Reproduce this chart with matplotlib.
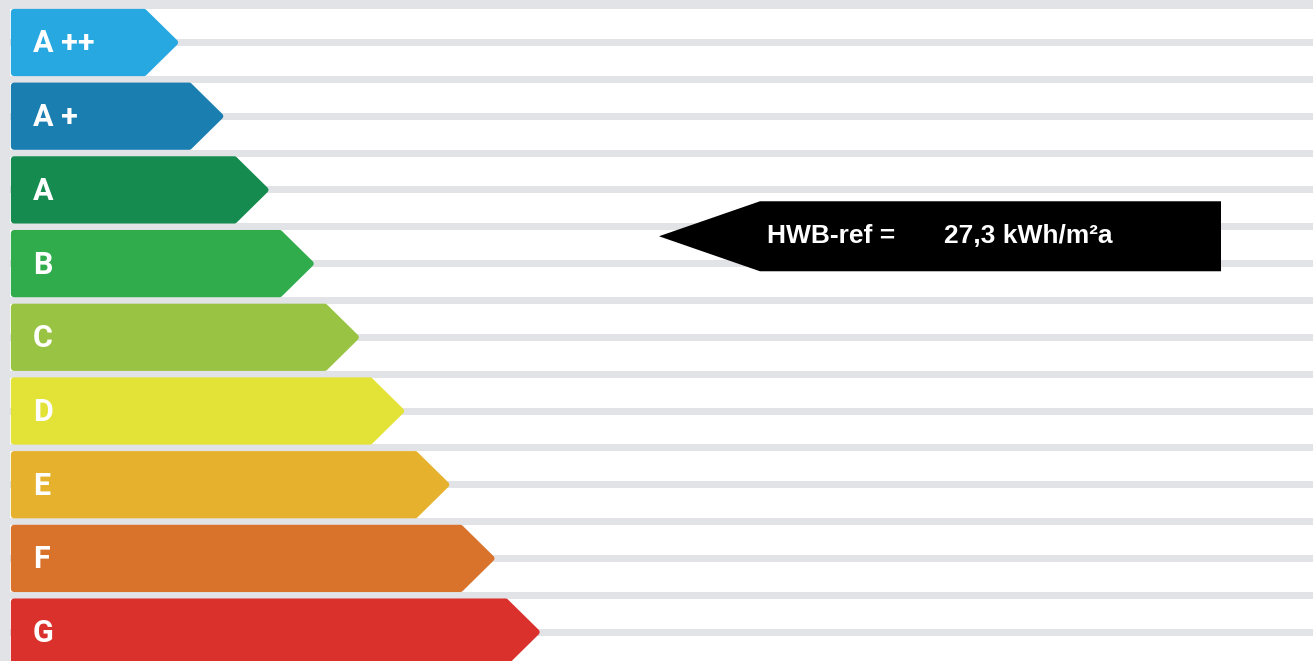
import matplotlib.pyplot as plt
from matplotlib.patches import Polygon, Rectangle

# energy classes (HWB-ref, kWh/m²a) and their colours
classes = ['A ++', 'A +', 'A', 'B', 'C', 'D', 'E', 'F', 'G']
upper_bounds = [10, 15, 25, 50, 100, 150, 200, 250, 300]
colors = ['#27a8e0', '#1b7eb0', '#168b4f', '#30ac4d', '#99c343',
          '#e3e236', '#e6b22e', '#d9732c', '#db312c']
hwb_value = 27.3
hwb_label = 'HWB-ref ='
hwb_unit = 'kWh/m²a'

W, H = 1313, 661
GRAY = '#e2e3e6'

fig = plt.figure(figsize=(W / 100, H / 100), dpi=100)
ax = fig.add_axes([0, 0, 1, 1])
ax.set_xlim(0, W)
ax.set_ylim(H, 0)
ax.axis('off')

top0, pitch, row_h = 9.0, 73.7, 67.0
left = 11.0
tip0, tip_step, tip_depth = 178.0, 45.2, 34.0

# background stripes
ax.add_patch(Rectangle((0, 0), W, top0, color=GRAY, lw=0))
ax.add_patch(Rectangle((0, 0), 10, H, color=GRAY, lw=0))
k = 0
while True:
    yc = top0 + row_h / 2 + k * pitch / 2
    if yc > H:
        break
    ax.add_patch(Rectangle((0, yc - 3.5), W, 7, color=GRAY, lw=0))
    k += 1

# class arrows
for i, (name, c) in enumerate(zip(classes, colors)):
    t = top0 + i * pitch
    b = t + row_h
    m = (t + b) / 2
    tip = tip0 + i * tip_step
    r = 3
    pts = [(left + r, t + r), (tip - tip_depth, t + r), (tip - r, m),
           (tip - tip_depth, b - r), (left + r, b - r)]
    ax.add_patch(Polygon(pts, closed=True, facecolor=c, edgecolor=c,
                         lw=4.5, joinstyle='round', zorder=3))
    ax.text(33, m + 1, name, color='white', fontsize=22, fontweight='bold',
            family='Roboto', va='center', ha='left', zorder=4)

# pointer position from the value on the class scale
lower = 0
for i, ub in enumerate(upper_bounds):
    if hwb_value <= ub:
        frac = (hwb_value - lower) / (ub - lower)
        break
    lower = ub
py = top0 + i * pitch + frac * row_h

ax.add_patch(Polygon([(659, py), (760, py - 35), (1221, py - 35),
                      (1221, py + 35), (760, py + 35)], closed=True,
                     facecolor='black', edgecolor='none', zorder=5))
ax.text(767, py, hwb_label, color='white', fontsize=19, fontweight='bold',
        family='Liberation Sans', va='center', ha='left', zorder=6)
val = f'{hwb_value:.1f}'.replace('.', ',')
ax.text(944, py, f'{val} {hwb_unit}', color='white', fontsize=19,
        fontweight='bold', family='Liberation Sans', va='center', ha='left',
        zorder=6)

fig.savefig('out.png', dpi=100)
